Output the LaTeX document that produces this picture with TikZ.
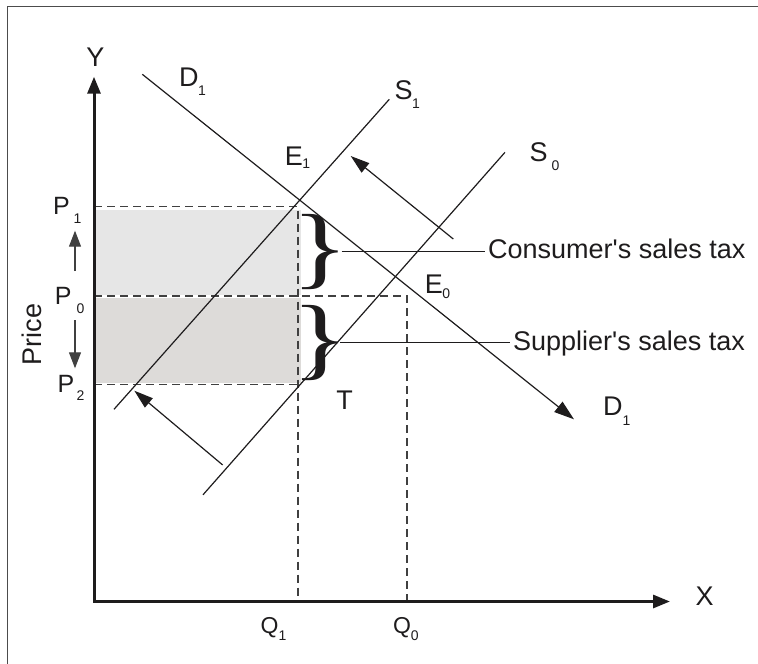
\documentclass[tikz,border=0pt]{standalone}
\usepackage{fontspec}
\setmainfont{Liberation Sans}[Ligatures=TeXOff]
\newfontfamily\bracefont{Liberation Serif}
\usetikzlibrary{arrows.meta}
\definecolor{lightfill}{RGB}{230,230,230}
\definecolor{darkfill}{RGB}{221,219,217}
\definecolor{ink}{RGB}{30,28,29}
\newcommand{\lab}[4]{#1\kern#4\raisebox{#3}{\fontsize{14}{14}\selectfont #2}}
\begin{document}
\begin{tikzpicture}[x=1pt,y=-1pt,
  curve/.style={line width=1.2pt, draw=ink},
  guide/.style={line width=1.2pt, draw=black!75, dash pattern=on 8pt off 5pt},
  axisline/.style={line width=3pt, draw=ink, {Triangle[length=17pt,width=13pt]}-{Triangle[length=17pt,width=13pt]}},
  shiftarrow/.style={line width=1.2pt, draw=ink, -{Triangle[length=19pt,width=12pt]}},
  parrow/.style={line width=1.2pt, draw=black!75, -{Triangle[length=16pt,width=12pt]}},
  big/.style={font=\fontsize{27}{32}\selectfont, inner sep=0pt, text=ink},
  plab/.style={font=\fontsize{25}{30}\selectfont, inner sep=0pt, text=ink},
  qlab/.style={font=\fontsize{23}{28}\selectfont, inner sep=0pt, text=ink},
  bracenode/.style={inner sep=0pt, text=ink, font=\bracefont\fontsize{91}{91}\selectfont},
]
\useasboundingbox (0,0) rectangle (758,664);
% frame
\draw[line width=1.6pt, draw=black!70] (7.3,664) coordinate (fl) -- (7.3,6.5) coordinate (fc) -- (758,6.5) coordinate (fr);
% shaded areas
\fill[lightfill] (96,209.5) rectangle (300.5,294.5);
\fill[darkfill] (96,298) rectangle (300.5,382.8);
% key coordinates
\coordinate (O) at (94,601.5);
\coordinate (Ytip) at (94,76.7);
\coordinate (Xtip) at (670,601.5);
\coordinate (P1y) at (94,206.5);
\coordinate (P0y) at (94,296);
\coordinate (P2y) at (94,384.5);
\coordinate (E1d) at (298,206.5);
\coordinate (E0d) at (407,296);
\coordinate (Td) at (298,384.5);
\coordinate (Q1x) at (298,601.5);
\coordinate (Q0x) at (407,601.5);
% dashed guides
\draw[guide] (P1y) -- (E1d) -- (Q1x);
\draw[guide] (P0y) -- (E0d) -- (Q0x);
\draw[guide] (P2y) -- (Td);
% curves
\coordinate (D1a) at (142.3,74.3);
\coordinate (D1b) at (574,419.3);
\coordinate (S1a) at (114,409.3);
\coordinate (S1b) at (389.3,99.3);
\coordinate (S0a) at (203,494.8);
\coordinate (S0b) at (505,152.3);
\draw[curve, -{Triangle[length=20pt,width=13pt]}] (D1a) -- (D1b);
\draw[curve] (S1a) -- (S1b);
\draw[curve] (S0a) -- (S0b);
% shift arrows
\coordinate (SAu1) at (453.3,239);
\coordinate (SAu2) at (350.7,156);
\coordinate (SAl1) at (222.7,465);
\coordinate (SAl2) at (134.3,390.7);
\draw[shiftarrow] (SAu1) -- (SAu2);
\draw[shiftarrow] (SAl1) -- (SAl2);
% price arrows
\coordinate (PAu1) at (75,271);
\coordinate (PAu2) at (75,230.7);
\coordinate (PAd1) at (75,320);
\coordinate (PAd2) at (75,368.3);
\draw[parrow] (PAu1) -- (PAu2);
\draw[parrow] (PAd1) -- (PAd2);
% axes
\draw[axisline] (Ytip) -- (O) -- (Xtip);
% braces
\node[bracenode] (cbrace) at (320,252) {\scalebox{1.32}[1]{\}}};
\node[bracenode] (sbrace) at (320,343) {\scalebox{1.32}[1]{\}}};
% leader lines and texts
\node[big, inner xsep=3pt, anchor=base west] (ctext) at (485,258.3) {Consumer's sales tax};
\node[big, inner xsep=3pt, anchor=base west] (stext) at (510,350.5) {Supplier's sales tax};
\coordinate (cl1) at (341.7,251.7);
\coordinate (sl1) at (340,342.7);
\draw[line width=1.2pt, draw=ink] (cl1) -- (cl1 -| ctext.west);
\draw[line width=1.2pt, draw=ink] (sl1) -- (sl1 -| stext.west);
% labels
\node[big, anchor=base] (ylab) at (95.5,66) {Y};
\node[big, anchor=base] (xlab) at (704.5,605.7) {X};
\node[big, rotate=90, anchor=base] (price) at (41,334.5) {Price};
\node[big, anchor=base west] (d1top) at (179,86) {\lab{D}{1}{-9pt}{-0.7pt}};
\node[big, anchor=base west] (d1bot) at (603,415) {\lab{D}{1}{-10pt}{0pt}};
\node[big, anchor=base west] (s1lab) at (394.5,99.5) {\lab{S}{1}{-8.8pt}{-0.5pt}};
\node[big, anchor=base west] (s0lab) at (529.5,161.7) {\lab{S}{0}{-8.5pt}{4pt}};
\node[big, anchor=base west] (e1lab) at (284.7,165) {\lab{E}{1}{-3.5pt}{-0.5pt}};
\node[big, anchor=base west] (e0lab) at (424.7,293.3) {\lab{E}{0}{-5pt}{-0.5pt}};
\node[big, anchor=base] (tlab) at (344.7,409) {T};
\node[plab, anchor=base west] (p1lab) at (53,214) {\lab{P}{1}{-9pt}{3.7pt}};
\node[plab, anchor=base west] (p0lab) at (54.7,304) {\lab{P}{0}{-9pt}{5pt}};
\node[plab, anchor=base west] (p2lab) at (57.3,392.5) {\lab{P}{2}{-8pt}{2.5pt}};
\node[qlab, anchor=base west] (q1lab) at (260.5,633) {\lab{Q}{1}{-7.7pt}{0pt}};
\node[qlab, anchor=base west] (q0lab) at (392.8,633) {\lab{Q}{0}{-7.7pt}{0pt}};
\end{tikzpicture}
\end{document}
